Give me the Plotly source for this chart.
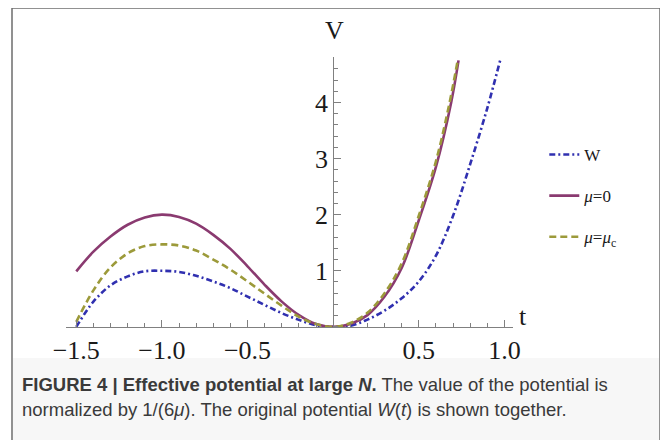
import plotly.graph_objects as go

# ---- data ----
t_w = [-1.5, -1.4, -1.3, -1.2, -1.1, -1.0, -0.9, -0.8, -0.7, -0.6, -0.5, -0.4, -0.3, -0.2, -0.1, 0.0,
       0.1, 0.2, 0.3, 0.4, 0.5, 0.6, 0.7, 0.8, 0.9, 0.975]
v_w = [0.0, 0.45, 0.74, 0.9, 0.99, 1.0, 0.98, 0.91, 0.81, 0.69, 0.54, 0.39, 0.245, 0.125, 0.03, 0.0,
       0.02, 0.13, 0.29, 0.51, 0.81, 1.27, 1.98, 2.9, 3.9, 4.75]

t_mu0 = [-1.5, -1.4, -1.3, -1.2, -1.1, -1.0, -0.9, -0.8, -0.7, -0.6, -0.5, -0.4, -0.3, -0.2, -0.1, 0.0,
         0.1, 0.2, 0.3, 0.4, 0.5, 0.6, 0.689, 0.732]
v_mu0 = [0.99, 1.34, 1.61, 1.82, 1.95, 2.0, 1.96, 1.84, 1.64, 1.39, 1.08, 0.75, 0.45, 0.21, 0.05, 0.0,
         0.05, 0.21, 0.54, 1.05, 1.9, 2.85, 4.0, 4.75]

t_muc = [-1.5, -1.4, -1.3, -1.2, -1.1, -1.0, -0.9, -0.8, -0.7, -0.6, -0.5, -0.4, -0.3, -0.2, -0.1, 0.0,
         0.1, 0.2, 0.3, 0.4, 0.5, 0.6, 0.68, 0.727]
v_muc = [0.09, 0.65, 1.06, 1.31, 1.44, 1.47, 1.45, 1.36, 1.2, 1.02, 0.81, 0.59, 0.375, 0.18, 0.05, 0.0,
         0.07, 0.25, 0.6, 1.13, 1.98, 2.95, 4.0, 4.75]

names = ["W", "<i>μ</i>=0", "<i>μ</i>=<i>μ</i><sub>c</sub>"]
colors = ["#3030b0", "#8a3a70", "#9c9a3a"]
dashes = ["6px,3px,2px,3px", "solid", "7px,4px"]

x_ticks = [-1.5, -1.0, -0.5, 0.5, 1.0]
x_tick_text = ["−1.5", "−1.0", "−0.5", "0.5", "1.0"]
y_ticks = [1, 2, 3, 4]

XR = [-1.56, 1.05]
YR = [-0.02, 4.81]

# page body has an 8px margin: the figure is drawn 8px in from the window corner
OFF = 8
W_FIG, H_FIG = 668 - OFF, 440 - OFF
L, R, T, B = 66 - OFF, 513 - OFF, 57 - OFF, 328 - OFF   # plot-area edges (figure px)

fig = go.Figure()
for (tt, vv), nm, c, d in zip([(t_w, v_w), (t_mu0, v_mu0), (t_muc, v_muc)], names, colors, dashes):
    fig.add_trace(go.Scatter(x=tt, y=vv, mode="lines", name=nm, legendgroup=nm,
                             line=dict(color=c, width=2.6, dash=d, shape="spline", smoothing=1.0)))

axis_font = dict(family="Liberation Serif, Times New Roman, serif", size=26, color="#1a1a1a")

fig.update_layout(
    width=W_FIG, height=H_FIG,
    margin=dict(l=L, r=W_FIG - R, t=T, b=H_FIG - B),
    paper_bgcolor="white", plot_bgcolor="white",
    showlegend=True,
    legend=dict(x=1.07, y=0.705, xanchor="left", yanchor="top",
                font=dict(family="Liberation Serif, Times New Roman, serif", size=17, color="#1a1a1a"),
                tracegroupgap=16, itemwidth=30, bgcolor="rgba(0,0,0,0)"),
    xaxis=dict(range=XR, showgrid=False, zeroline=False, showline=True, linecolor="#808080", linewidth=1,
               anchor="free", position=(0 - YR[0]) / (YR[1] - YR[0]),
               tickvals=x_ticks, ticktext=x_tick_text, ticks="inside", ticklen=7, tickcolor="#808080",
               tickfont=axis_font,
               minor=dict(dtick=0.1, tick0=0, ticks="inside", ticklen=4, tickcolor="#808080")),
    yaxis=dict(range=YR, showgrid=False, zeroline=False, showline=True, linecolor="#808080", linewidth=1,
               anchor="free", position=(0 - XR[0]) / (XR[1] - XR[0]),
               tickvals=y_ticks, ticks="inside", ticklen=7, tickcolor="#808080",
               tickfont=axis_font,
               minor=dict(dtick=0.2, tick0=0, ticks="inside", ticklen=4, tickcolor="#808080")),
)

# helpers: window px (reference coords) -> paper
def px(x):
    return (x - OFF - L) / (R - L)
def py(y):
    return (B - (y - OFF)) / (B - T)

# outer frame (bottom edge lies below the visible window) and caption box
fig.add_shape(type="rect", xref="paper", yref="paper", x0=px(12), x1=px(660), y0=py(446), y1=py(8),
              line=dict(color="#6e6e6e", width=1.5), fillcolor="rgba(0,0,0,0)", layer="below")
fig.add_shape(type="rect", xref="paper", yref="paper", x0=px(13), x1=px(659), y0=py(445), y1=py(358),
              line=dict(width=0), fillcolor="#f7f7f7", layer="below")

# axis labels
fig.add_annotation(xref="paper", yref="paper", x=px(334), y=py(30), text="V", showarrow=False,
                   font=axis_font, xanchor="center", yanchor="middle")
fig.add_annotation(xref="paper", yref="paper", x=px(517), y=py(316), text="t", showarrow=False,
                   font=axis_font, xanchor="left", yanchor="middle")

cap_font = dict(family="Liberation Sans Narrow, Arial Narrow, Liberation Sans, sans-serif", size=18.5, color="#3a3a3a")
fig.add_annotation(xref="paper", yref="paper", x=px(20), y=py(384), xanchor="left", yanchor="middle",
                   showarrow=False, align="left", font=cap_font,
                   text="<b>FIGURE 4 | Effective potential at large <i>N</i>.</b> The value of the potential is")
fig.add_annotation(xref="paper", yref="paper", x=px(20), y=py(409), xanchor="left", yanchor="middle",
                   showarrow=False, align="left", font=cap_font,
                   text="normalized by 1/(6<i>μ</i>). The original potential <i>W</i>(<i>t</i>) is shown together.")

fig.write_html("out.html")
